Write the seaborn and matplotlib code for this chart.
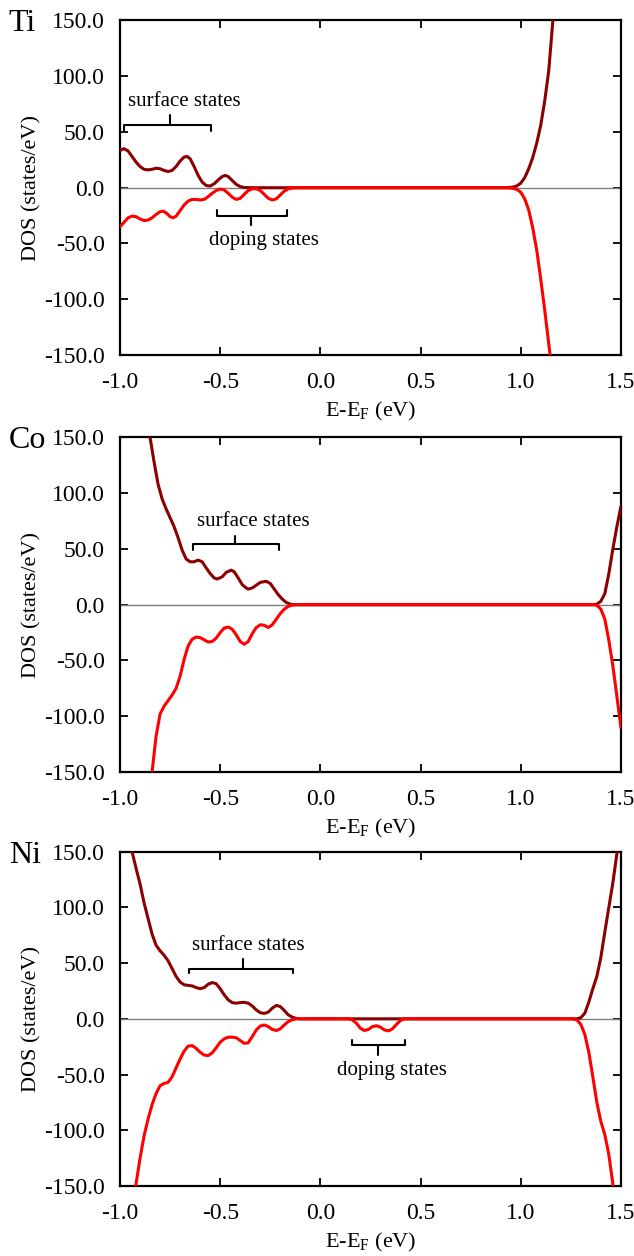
import matplotlib
matplotlib.use("Agg")
import matplotlib.pyplot as plt
import seaborn as sns
from matplotlib.ticker import FormatStrFormatter

# ---- data (energy in eV, DOS in states/eV) ----
ti_up_e = [-1.00, -0.98, -0.96, -0.94, -0.92, -0.90, -0.88, -0.86, -0.84, -0.82, -0.80, -0.78,
           -0.76, -0.74, -0.72, -0.70, -0.68, -0.665, -0.65, -0.63, -0.61, -0.59, -0.57, -0.55,
           -0.53, -0.51, -0.49, -0.475, -0.46, -0.44, -0.42, -0.40, -0.38, -0.35, 0.92, 0.96,
           0.98, 1.00, 1.02, 1.04, 1.06, 1.08, 1.10, 1.12, 1.14, 1.16, 1.165]
ti_up_dos = [33.5, 35, 33, 28, 23, 19, 16.5, 16, 16.5, 17.5, 17, 15.5,
             14.5, 15.5, 19, 24, 27.5, 28, 26, 19, 11, 5, 2, 1.5,
             3.5, 7, 10, 11, 10, 6.5, 3, 1, 0.2, 0, 0, 0.5,
             1.5, 4, 9, 17, 27, 40, 56, 78, 105, 149, 160]

ti_dn_e = [-1.00, -0.98, -0.96, -0.94, -0.92, -0.90, -0.88, -0.86, -0.84, -0.82, -0.80, -0.785,
           -0.77, -0.75, -0.735, -0.72, -0.70, -0.68, -0.66, -0.64, -0.62, -0.60, -0.58, -0.56,
           -0.54, -0.52, -0.50, -0.48, -0.46, -0.44, -0.42, -0.40, -0.38, -0.36, -0.34, -0.32,
           -0.30, -0.28, -0.26, -0.24, -0.22, -0.20, -0.18, -0.16, -0.14, -0.12, 0.92, 0.96,
           0.98, 1.00, 1.02, 1.04, 1.06, 1.08, 1.10, 1.12, 1.14, 1.15]
ti_dn_dos = [-35, -31, -27, -25.5, -26, -28, -29.5, -29, -27, -24, -21.5, -21,
             -22.5, -26, -27, -25.5, -20.5, -15.5, -12, -10.5, -10.5, -11, -10.5, -8,
             -5, -2.5, -1.2, -2, -5, -8.5, -10.5, -9.5, -6, -2.5, -1, -1,
             -2.5, -6, -9.5, -11, -10, -6.5, -3, -1, -0.2, 0, 0, -0.5,
             -1.5, -4, -10, -20, -36, -56, -82, -110, -140, -155]

co_up_e = [-0.86, -0.85, -0.83, -0.81, -0.79, -0.77, -0.75, -0.73, -0.71, -0.69, -0.67, -0.65,
           -0.63, -0.61, -0.59, -0.57, -0.55, -0.53, -0.515, -0.49, -0.47, -0.445, -0.43, -0.41,
           -0.39, -0.37, -0.36, -0.34, -0.32, -0.30, -0.27, -0.25, -0.23, -0.21, -0.19, -0.17,
           -0.15, -0.13, 1.36, 1.38, 1.40, 1.42, 1.44, 1.46, 1.48, 1.50]
co_up_dos = [160, 150, 128, 108, 95, 86, 78, 70, 60, 49, 41, 38.5,
             38.5, 40, 38.5, 33, 28, 24, 23, 25, 29, 31, 29.5, 24,
             18, 15, 14, 15, 17.5, 20, 21, 19, 14, 9, 5, 2,
             0.5, 0, 0, 0.5, 3, 10, 28, 50, 70, 88]

co_dn_e = [-0.845, -0.84, -0.82, -0.80, -0.78, -0.76, -0.74, -0.72, -0.70, -0.68, -0.66, -0.64,
           -0.62, -0.60, -0.58, -0.56, -0.54, -0.52, -0.50, -0.48, -0.46, -0.44, -0.42, -0.40,
           -0.38, -0.36, -0.34, -0.32, -0.30, -0.28, -0.26, -0.24, -0.22, -0.20, -0.18, -0.16,
           -0.14, -0.12, 1.36, 1.38, 1.40, 1.42, 1.44, 1.46, 1.48, 1.50]
co_dn_dos = [-155, -150, -118, -98, -91, -86, -81, -75, -64, -49, -37, -31,
             -29, -29.5, -31.5, -33.5, -33, -30, -25, -21, -20, -22, -27, -33,
             -35.5, -33, -26, -20.5, -18, -18.5, -20.5, -18, -13, -8, -4, -1.5,
             -0.3, 0, 0, -0.5, -4, -13, -32, -55, -82, -110]

ni_up_e = [-0.95, -0.94, -0.92, -0.90, -0.88, -0.86, -0.84, -0.82, -0.80, -0.78, -0.76, -0.74,
           -0.72, -0.70, -0.68, -0.66, -0.64, -0.62, -0.60, -0.58, -0.56, -0.54, -0.52, -0.50,
           -0.48, -0.46, -0.44, -0.42, -0.40, -0.38, -0.36, -0.34, -0.32, -0.30, -0.28, -0.26,
           -0.24, -0.22, -0.20, -0.18, -0.16, -0.14, -0.12, -0.10, 1.28, 1.30, 1.32, 1.34,
           1.36, 1.38, 1.40, 1.42, 1.44, 1.46, 1.48, 1.49]
ni_up_dos = [160, 150, 135, 121, 104, 90, 76, 66, 61, 57, 52, 45,
             38, 33, 30.5, 30, 29.5, 28, 27, 28, 31, 32.5, 31.5, 27,
             21.5, 17, 14.5, 14, 14.5, 14.8, 14, 11.5, 8, 5.5, 4.8, 6,
             9.5, 12, 11, 7.5, 3.5, 1.5, 0.3, 0, 0, 1, 5, 15,
             27, 38, 55, 78, 100, 122, 148, 160]

ni_dn_e = [-0.925, -0.92, -0.90, -0.88, -0.86, -0.84, -0.82, -0.80, -0.78, -0.76, -0.74, -0.72,
           -0.70, -0.68, -0.66, -0.64, -0.62, -0.60, -0.58, -0.56, -0.54, -0.52, -0.50, -0.48,
           -0.46, -0.44, -0.42, -0.40, -0.38, -0.36, -0.34, -0.32, -0.30, -0.28, -0.26, -0.24,
           -0.22, -0.20, -0.18, -0.16, -0.14, -0.12, 0.14, 0.16, 0.18, 0.20, 0.22, 0.24,
           0.26, 0.28, 0.30, 0.32, 0.34, 0.36, 0.38, 0.40, 0.42, 1.26, 1.28, 1.30,
           1.32, 1.34, 1.36, 1.38, 1.40, 1.42, 1.44, 1.46, 1.465]
ni_dn_dos = [-155, -148, -125, -105, -90, -77, -67, -60, -58, -57, -52, -44,
             -36, -29, -24.5, -24, -26.5, -30, -32.5, -33, -30.5, -26, -21, -18,
             -16.5, -16.5, -17, -19.5, -22, -21.5, -16, -10, -6.5, -5.5, -7, -9.5,
             -10.5, -9, -5.5, -2.5, -0.8, 0, 0, -1, -4, -8.5, -10.5, -9.5,
             -7, -6.2, -7.5, -10, -10.8, -9, -5, -1.5, 0, 0, -1, -5,
             -14, -30, -52, -75, -92, -104, -122, -148, -160]

panel_names = ["Ti", "Co", "Ni"]
x_ticks = [-1.0, -0.5, 0.0, 0.5, 1.0, 1.5]
y_ticks = [-150, -100, -50, 0, 50, 100, 150]

# annotations: (label, left, right, middle, bar y, end y, mid y, text x, text y)
notes = {
    "Ti": [("surface states", -0.979, -0.546, -0.75, 56.5, 51.0, 65.0, -0.677, 77),
           ("doping states", -0.514, -0.168, -0.348, -25.4, -20.4, -33.7, -0.281, -47)],
    "Co": [("surface states", -0.637, -0.205, -0.426, 54.0, 49.5, 62.0, -0.335, 75)],
    "Ni": [("surface states", -0.656, -0.135, -0.385, 45.0, 41.0, 53.6, -0.358, 66),
           ("doping states", 0.158, 0.422, 0.29, -23.8, -19.4, -32.6, 0.359, -46)],
}

curves = {
    "Ti": (ti_up_e, ti_up_dos, ti_dn_e, ti_dn_dos),
    "Co": (co_up_e, co_up_dos, co_dn_e, co_dn_dos),
    "Ni": (ni_up_e, ni_up_dos, ni_dn_e, ni_dn_dos),
}

sns.set_style("ticks", {"axes.edgecolor": "black", "xtick.color": "black",
                        "ytick.color": "black", "text.color": "black",
                        "axes.labelcolor": "black"})
plt.rcParams["font.family"] = ["Liberation Serif", "DejaVu Serif"]
plt.rcParams["mathtext.fontset"] = "custom"
plt.rcParams["mathtext.rm"] = "Liberation Serif"
plt.rcParams["axes.unicode_minus"] = False

UP = "#8b0000"
DN = "#ff0000"

fig = plt.figure(figsize=(6.34, 12.56), dpi=100)
bottoms = [0.7174, 0.3854, 0.0557]
height = 0.2663

for name, y0 in zip(panel_names, bottoms):
    ax = fig.add_axes([0.1893, y0, 0.790, height])
    ue, ud, de, dd = curves[name]
    ax.axhline(0, color="#7f7f7f", lw=1.0, zorder=1)
    sns.lineplot(x=ue, y=ud, ax=ax, color=UP, lw=2.2, estimator=None, sort=False, zorder=3)
    sns.lineplot(x=de, y=dd, ax=ax, color=DN, lw=2.2, estimator=None, sort=False, zorder=4)

    ax.set_xlim(-1.0, 1.5)
    ax.set_ylim(-150, 150)
    ax.set_xticks(x_ticks)
    ax.set_yticks(y_ticks)
    ax.xaxis.set_major_formatter(FormatStrFormatter("%.1f"))
    ax.yaxis.set_major_formatter(FormatStrFormatter("%.1f"))
    ax.tick_params(direction="in", length=6, width=1.3, labelsize=17,
                   top=True, right=True, colors="black")
    ax.tick_params(axis="x", pad=12)
    ax.tick_params(axis="y", pad=11)
    for s in ax.spines.values():
        s.set_linewidth(1.6)
        s.set_color("black")
        s.set_visible(True)
    ax.set_xlabel("E-E$_{\\rm F}$ (eV)", fontsize=16, labelpad=5)
    ax.set_ylabel("DOS (states/eV)", fontsize=16, labelpad=2)
    fig.text(0.014, y0 + height - 11 / 1256, name, fontsize=23, ha="left", va="baseline")

    for (lab, xl, xr, xm, yb, ye, ym, tx, ty) in notes[name]:
        ax.plot([xl, xl, xr, xr], [ye, yb, yb, ye], color="black", lw=1.5)
        ax.plot([xm, xm], [yb, ym], color="black", lw=1.5)
        ax.text(tx, ty, lab, fontsize=15, ha="center", va="center")

fig.savefig("out.png", dpi=100)
